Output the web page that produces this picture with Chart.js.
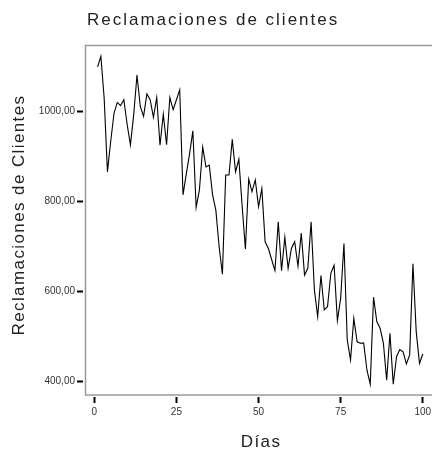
<!DOCTYPE html>
<html>
<head>
<meta charset="utf-8">
<script src="https://cdn.jsdelivr.net/npm/chart.js@4.4.1/dist/chart.umd.min.js"></script>
<style>
  html,body{margin:0;padding:0;background:#fff;}
  #wrap{width:432px;height:451px;}
</style>
</head>
<body>
<div id="wrap"><canvas id="ch"></canvas></div>
<script>
/* Reclamaciones de clientes — serie diaria */
const dias=[1,2,3,4,5,6,7,8,9,10,11,12,13,14,15,16,17,18,19,20,
  21,22,23,24,25,26,27,28,29,30,31,32,33,34,35,36,37,38,39,40,
  41,42,43,44,45,46,47,48,49,50,51,52,53,54,55,56,57,58,59,60,
  61,62,63,64,65,66,67,68,69,70,71,72,73,74,75,76,77,78,79,80,
  81,82,83,84,85,86,87,88,89,90,91,92,93,94,95,96,97,98,99,100];
const reclamaciones=[1098,1121,1029,865,933,995,1019,1012,1025,970,
  925,992,1080,1010,988,1038,1025,986,1030,924,
  993,925,1030,1003,1025,1047,814,860,905,956,
  786,825,920,876,880,814,780,699,638,858,
  858,937,865,893,790,694,849,821,847,788,
  828,710,695,670,646,754,646,720,651,695,
  710,656,729,636,651,754,603,544,635,559,
  566,640,658,535,585,706,492,448,540,488,
  485,485,425,394,587,533,518,485,403,507,
  394,455,471,466,439,459,661,510,440,461];
const xTicks=[0,25,50,75,100];
const yTicks=[400,600,800,1000];
const titulo='Reclamaciones de clientes';
const tituloY='Reclamaciones de Clientes';
const tituloX='Días';

const FONT='"Liberation Sans", Arial, Helvetica, sans-serif';

// marco gris del área y títulos con espaciado de letras
const decor={
  id:'decor',
  afterDraw(chart){
    const {ctx,chartArea:a}=chart;
    ctx.save();
    ctx.strokeStyle='#9a9a9a';
    ctx.lineWidth=1.5;
    ctx.strokeRect(a.left+2.5,a.top+0.5,a.right-a.left+10,a.bottom-a.top-2.5);
    ctx.fillStyle='#222';
    ctx.font='17px '+FONT;
    const ls=('letterSpacing' in ctx);
    if (ls) ctx.letterSpacing='2px';
    ctx.textBaseline='alphabetic';
    ctx.textAlign='left';
    ctx.fillText(titulo,87,25);
    if (ls) ctx.letterSpacing='1.4px';
    ctx.textAlign='center';
    ctx.fillText(tituloX,261,447);
    ctx.translate(24,215);
    ctx.rotate(-Math.PI/2);
    ctx.fillText(tituloY,0,0);
    ctx.restore();
  }
};

new Chart(document.getElementById('ch').getContext('2d'),{
  type:'line',
  data:{datasets:[{
    data:dias.map((d,i)=>({x:d,y:reclamaciones[i]})),
    borderColor:'#000',borderWidth:1.1,pointRadius:0,tension:0,fill:false
  }]},
  options:{
    responsive:true,maintainAspectRatio:false,animation:false,
    layout:{padding:{top:45,right:0,bottom:0,left:0}},
    plugins:{legend:{display:false},tooltip:{enabled:false},title:{display:false}},
    scales:{
      x:{type:'linear',min:-3.44,max:102.8,
        afterBuildTicks:s=>{s.ticks=xTicks.map(v=>({value:v}));},
        afterFit:s=>{s.height=54;s.paddingLeft=0;s.paddingRight=0;},
        border:{display:false},
        grid:{drawOnChartArea:false,tickLength:6,tickWidth:2,tickColor:'#000'},
        ticks:{color:'#333',font:{family:FONT,size:10},padding:3,maxRotation:0,callback:v=>String(v)}
      },
      y:{type:'linear',min:365.6,max:1146.4,
        afterBuildTicks:s=>{s.ticks=yTicks.map(v=>({value:v}));},
        afterFit:s=>{s.width=83;s.paddingTop=0;s.paddingBottom=0;},
        border:{display:false},
        grid:{drawOnChartArea:false,tickLength:6,tickWidth:2,tickColor:'#000'},
        ticks:{color:'#333',font:{family:FONT,size:10},padding:2,callback:v=>v.toFixed(2).replace('.',',')}
      }
    }
  },
  plugins:[decor]
});
</script>
</body>
</html>
